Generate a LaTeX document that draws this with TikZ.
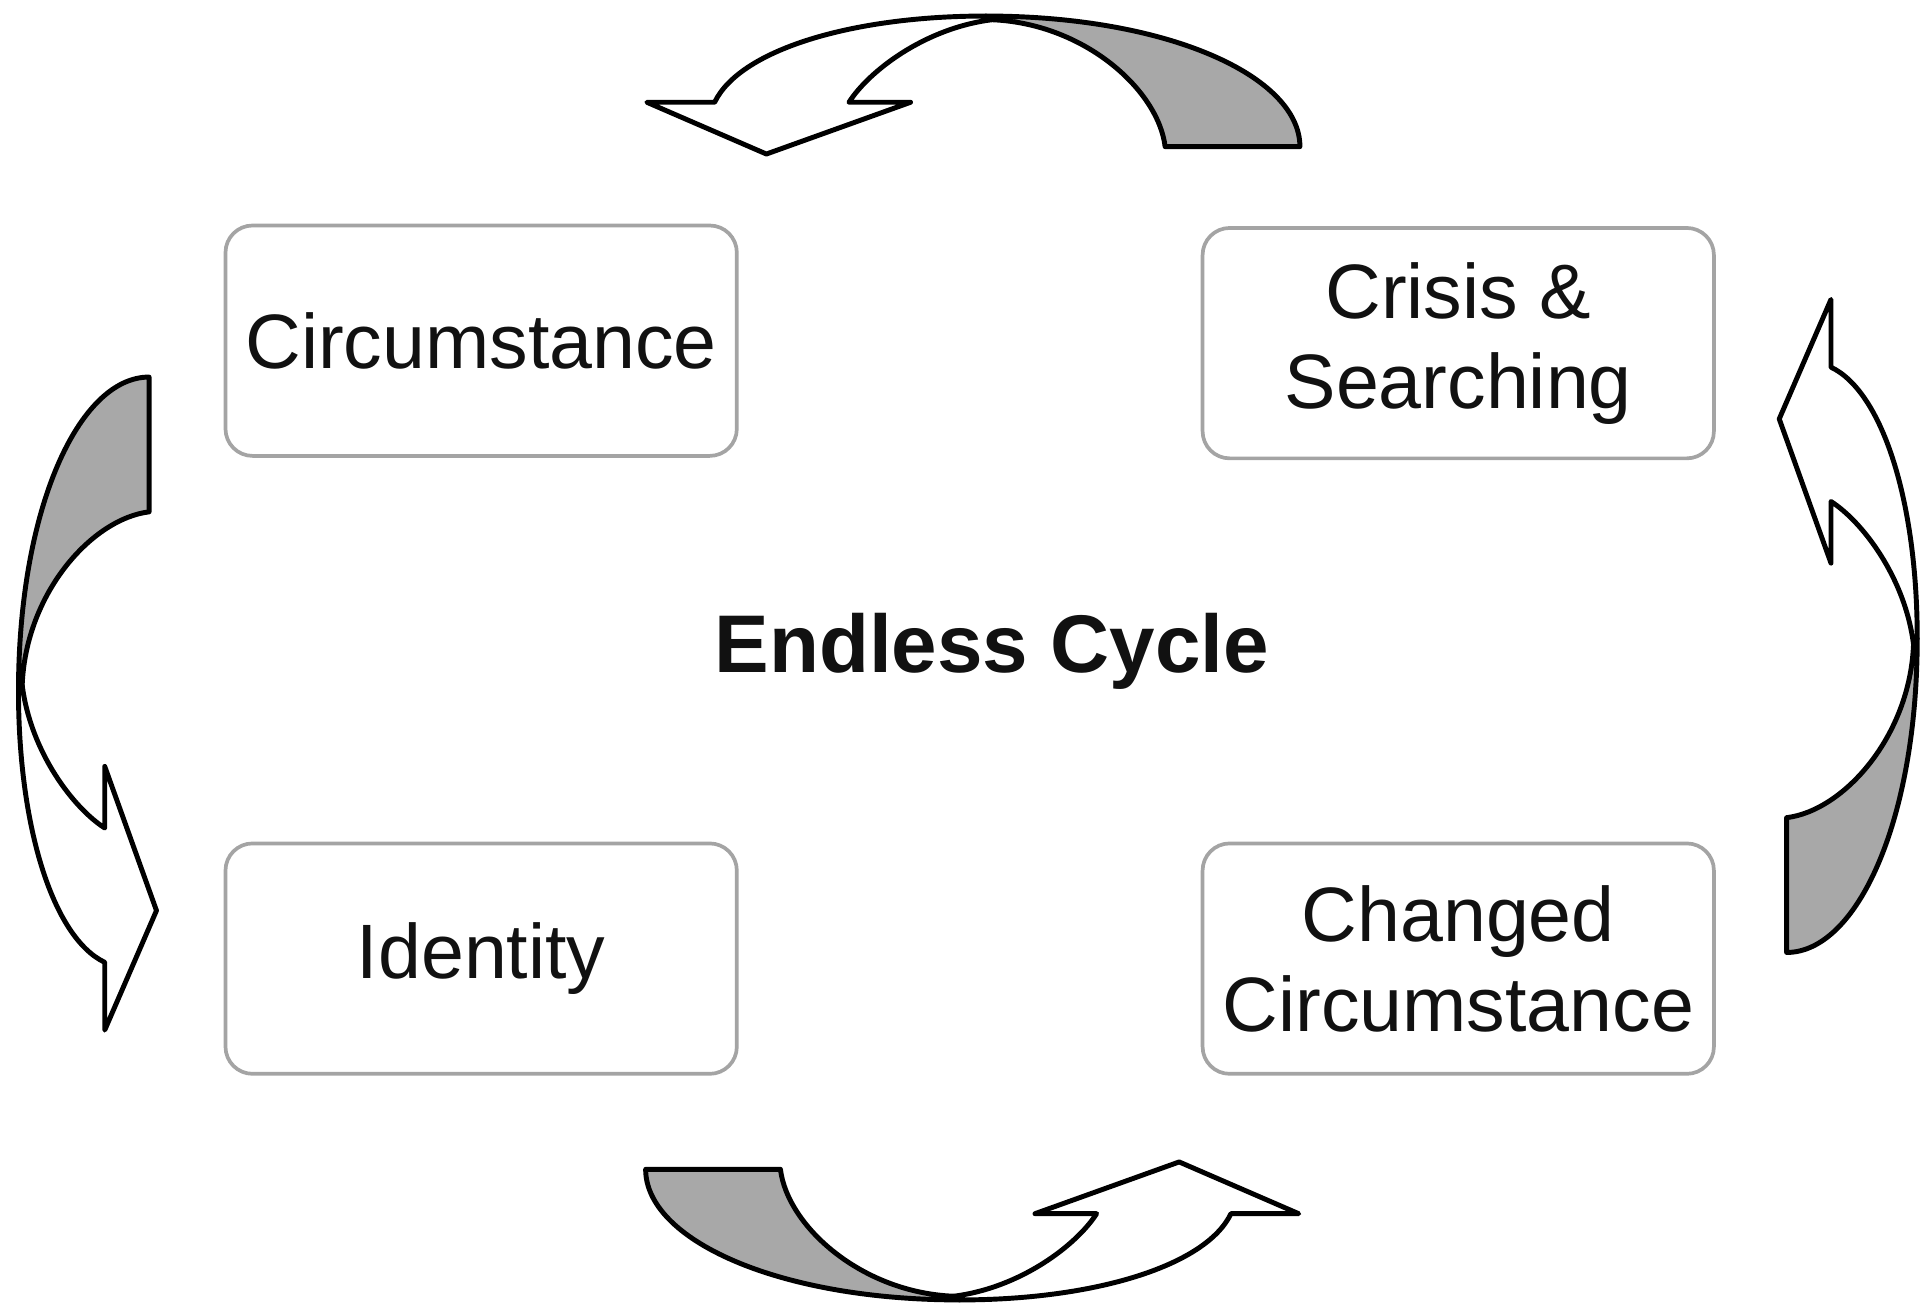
\documentclass[tikz,border=0pt]{standalone}
\usepackage{fontspec}
\setmainfont{Liberation Sans}
\definecolor{boxgray}{HTML}{A4A4A4}
\definecolor{shade}{HTML}{A8A8A8}
\definecolor{ink}{HTML}{111111}
\tikzset{
  box/.style={draw=boxgray, line width=1.5pt, rounded corners=11pt, fill=white,
    minimum width=207.5pt, minimum height=93.5pt, align=center, text=ink,
    font=\fontsize{31.3}{36.5}\selectfont, inner sep=0pt},
  title/.style={text=ink, font=\bfseries\fontsize{33.2}{38}\selectfont},
  outl/.style={draw=black, line width=2pt, line join=round},
  cyc/.pic={
    \path[outl, fill=shade] (0,0) .. controls (148,0) and (255,49) .. (255,106)
      -- (145.6,106) .. controls (140,60) and (80,6) .. (5,3) -- cycle;
    \path[outl, fill=white] (0,0) .. controls (-110,0) and (-200,28) .. (-220,70)
      -- (-275,70) -- (-178,112) -- (-61,70) -- (-111,70)
      .. controls (-95,45) and (-50,10) .. (5,3) -- cycle;
  }
}
\begin{document}
\begin{tikzpicture}[x=0.5pt, y=-0.5pt]
\useasboundingbox (0,0) rectangle (1568,1062);
\node[box] (circ) at (390.5,276.5) {Circumstance};
\node[box] (crisis) at (1183.5,278.5) {Crisis \&\\Searching};
\node[box] (ident) at (390.5,778) {Identity};
\node[box] (changed) at (1183.5,778) {Changed\\Circumstance};
\node[title] (center) at (805,529) {Endless Cycle};
\pic (topcyc) at (800,13) {cyc};
\pic[rotate=90] (leftcyc) at (15,561) {cyc};
\pic[rotate=180] (botcyc) at (779,1055) {cyc};
\pic[rotate=-90] (rightcyc) at (1556,518) {cyc};
\end{tikzpicture}
\end{document}
